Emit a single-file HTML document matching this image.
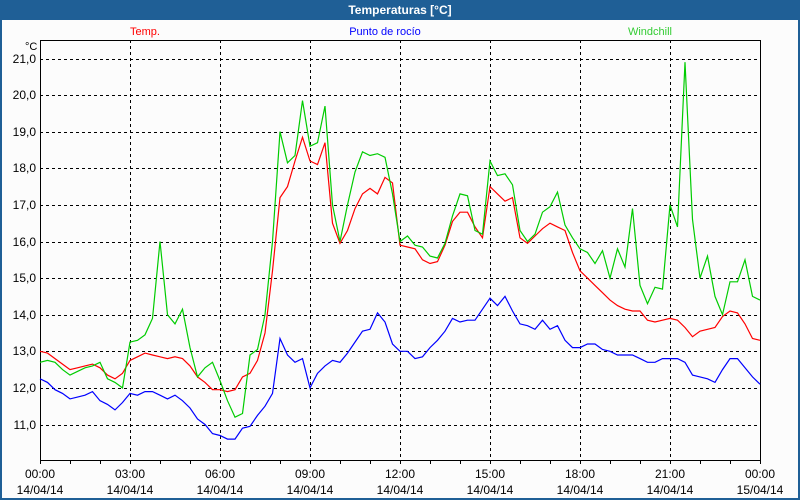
<!DOCTYPE html>
<html><head><meta charset="utf-8"><style>
body{margin:0;width:800px;height:500px;overflow:hidden;background:#fff;font-family:"Liberation Sans",sans-serif}
#win{position:absolute;left:0;top:0;width:796px;height:498px;border:2px solid #1f5f96;border-top:none;background:#fcfcfc}
#title{position:absolute;left:0;top:0;width:800px;height:20px;background:#1f5f96;color:#fff;font-weight:bold;font-size:12px;text-align:center;line-height:20px}
</style></head><body>
<div id="win"></div>
<div id="title">Temperaturas [°C]</div>
<svg id="chart" width="800" height="500" style="position:absolute;left:0;top:0"></svg>
<script>
const hours=[0,3,6,9,12,15,18,21,24];
const timeLabels=["00:00","03:00","06:00","09:00","12:00","15:00","18:00","21:00","00:00"];
const dateLabels=["14/04/14","14/04/14","14/04/14","14/04/14","14/04/14","14/04/14","14/04/14","14/04/14","15/04/14"];
const yTicks=[11,12,13,14,15,16,17,18,19,20,21];
const temp=[13.0,12.95,12.8,12.65,12.5,12.55,12.6,12.65,12.55,12.35,12.25,12.4,12.75,12.85,12.95,12.9,12.85,12.8,12.85,12.8,12.6,12.3,12.15,11.95,11.95,11.9,11.95,12.3,12.4,12.75,13.5,15.2,17.2,17.5,18.2,18.85,18.2,18.1,18.7,16.5,15.95,16.3,16.9,17.3,17.45,17.3,17.75,17.6,15.9,15.85,15.8,15.5,15.4,15.45,15.9,16.55,16.8,16.8,16.4,16.1,17.5,17.3,17.1,17.2,16.1,15.95,16.15,16.35,16.5,16.4,16.3,15.7,15.2,15.0,14.8,14.6,14.4,14.25,14.15,14.1,14.1,13.85,13.8,13.85,13.9,13.85,13.65,13.4,13.55,13.6,13.65,13.95,14.1,14.05,13.75,13.35,13.3];
const dew=[12.25,12.15,11.95,11.85,11.7,11.75,11.8,11.9,11.65,11.55,11.4,11.6,11.85,11.8,11.9,11.9,11.8,11.7,11.8,11.65,11.45,11.15,11.0,10.75,10.7,10.6,10.6,10.9,10.95,11.25,11.5,11.85,13.35,12.9,12.7,12.8,12.0,12.4,12.6,12.75,12.7,12.95,13.25,13.55,13.6,14.05,13.8,13.2,13.0,13.0,12.8,12.85,13.1,13.3,13.55,13.9,13.8,13.85,13.85,14.15,14.45,14.25,14.5,14.1,13.75,13.7,13.6,13.85,13.6,13.7,13.3,13.1,13.1,13.2,13.2,13.05,13.0,12.9,12.9,12.9,12.8,12.7,12.7,12.8,12.8,12.8,12.7,12.35,12.3,12.25,12.15,12.5,12.8,12.8,12.55,12.3,12.1];
const wind=[12.7,12.75,12.7,12.5,12.35,12.45,12.55,12.6,12.7,12.25,12.15,12.0,13.25,13.3,13.45,13.9,16.0,14.0,13.75,14.15,13.1,12.3,12.55,12.7,12.2,11.65,11.2,11.3,12.9,13.05,14.0,16.0,19.0,18.15,18.35,19.85,18.6,18.7,19.7,17.0,16.0,17.0,17.9,18.45,18.35,18.4,18.3,17.3,16.0,16.15,15.9,15.85,15.6,15.55,15.95,16.7,17.3,17.25,16.3,16.2,18.2,17.8,17.85,17.55,16.3,16.0,16.2,16.8,16.95,17.35,16.45,16.1,15.8,15.7,15.4,15.75,15.0,15.8,15.3,16.9,14.8,14.3,14.75,14.7,17.0,16.4,20.9,16.6,15.0,15.6,14.5,14.0,14.9,14.9,15.5,14.5,14.4];
const svg=document.getElementById('chart');const NS='http://www.w3.org/2000/svg';
const X0=40,X1=760,Y0=40,Y1=460;
const xs=h=>X0+(h/24)*(X1-X0);
const ys=v=>424.5-(v-11)*36.6;
function mk(t,a,p){const e=document.createElementNS(NS,t);for(const k in a)e.setAttribute(k,a[k]);(p||svg).appendChild(e);return e;}
const grid=mk('g',{});


yTicks.forEach(v=>{const l=mk('line',{x1:X0,x2:X1,y1:Math.round(ys(v))+0.5,y2:Math.round(ys(v))+0.5,stroke:'#000','stroke-dasharray':'3,3'},grid);


const t=mk('text',{x:36,y:Math.round(ys(v))+4,'text-anchor':'end','font-size':'12',fill:'#000'});t.textContent=v.toFixed(1).replace('.',',');

});
hours.forEach((h,i)=>{const x=Math.round(xs(h))+0.5;if(i>0&&i<hours.length-1){const l=mk('line',{x1:x,x2:x,y1:Y0,y2:Y1,stroke:'#000','stroke-dasharray':'3,3'},grid);

}
const t=mk('text',{x:xs(h),y:478,'text-anchor':'middle','font-size':'12'});t.textContent=timeLabels[i];


const d=mk('text',{x:xs(h),y:494,'text-anchor':'middle','font-size':'12'});d.textContent=dateLabels[i];

});
for(let h=0;h<=24;h++){mk('line',{x1:Math.round(xs(h))+0.5,x2:Math.round(xs(h))+0.5,y1:Y1,y2:Y1+4,stroke:'#000'});}
const frame=mk('rect',{x:X0+0.5,y:Y0+0.5,width:X1-X0,height:Y1-Y0,fill:'none',stroke:'#000'});


const unit=mk('text',{x:25,y:50,'font-size':'11'});unit.textContent='°C';


function series(arr,col,name){const pts=arr.map((v,i)=>xs(i*24/(arr.length-1)).toFixed(1)+','+ys(v).toFixed(1)).join(' ');
const p=mk('polyline',{points:pts,fill:'none',stroke:col,'stroke-width':'1.2'});

}
series(dew,'#0000ff','dewpoint-line');
series(temp,'#ff0000','temp-line');
series(wind,'#00cc00','windchill-line');
[['Temp.',145,'#ff0000','legend-temp'],['Punto de rocío',385,'#0000ff','legend-dewpoint'],['Windchill',650,'#33cc33','legend-windchill']].forEach(a=>{
const t=mk('text',{x:a[1],y:35,'text-anchor':'middle','font-size':'11',fill:a[2]});t.textContent=a[0];

});
</script>
</body></html>
